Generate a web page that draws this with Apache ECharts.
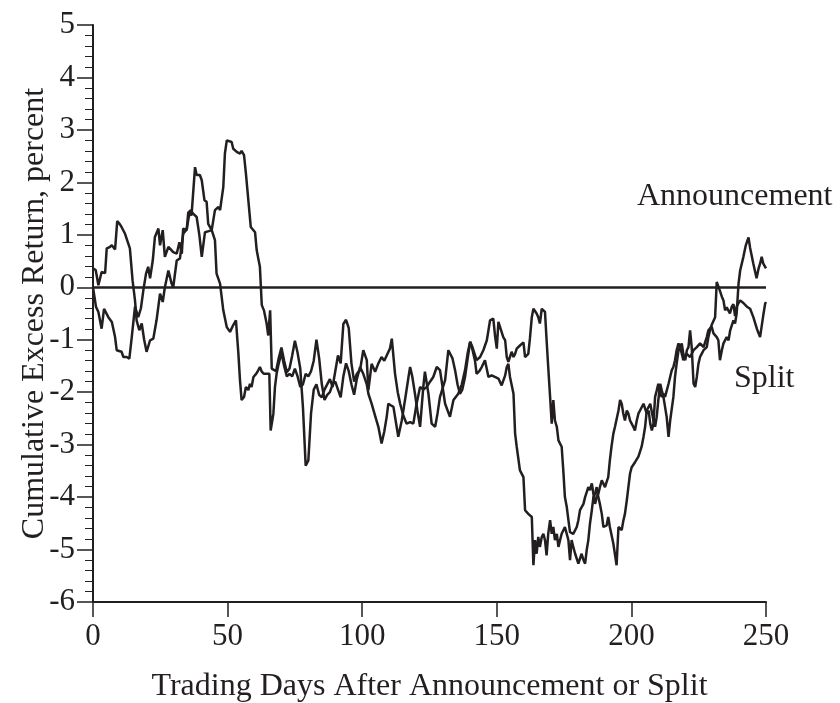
<!DOCTYPE html>
<html>
<head>
<meta charset="utf-8">
<script src="https://cdn.jsdelivr.net/npm/echarts@6/dist/echarts.min.js"></script>
<style>
html,body{margin:0;padding:0;background:#fff;}
#chart{width:840px;height:703px;}
</style>
</head>
<body>
<div id="chart"></div>
<script>
const xTicks = [0, 50, 100, 150, 200, 250];
const yTicks = [-6, -5, -4, -3, -2, -1, 0, 1, 2, 3, 4, 5];

const annDays = [0,1,2,3.2,4.5,5.1,6,7,7.6,8.2,9,10,10.6,11.9,12.5,13.7,14.7,15.6,16.2,17.2,18.1,19,19.9,21.2,22.4,23.6,24.9,25.9,26.7,28,29.2,29.8,31.1,32.3,33.5,34.8,36,37.3,38.5,39.5,40.4,41.6,43,44.1,44.7,45.3,46.6,47.2,48.4,49,49.7,50.3,51.5,52.1,53.4,54.6,55.2,56.1,56.8,57.7,58.6,59.3,60.2,60.8,61.4,62,62.7,63.5,64.5,65.1,65.8,66.4,67,68,69,70,71,72,73,74,75,76,77,78,79,80,81,82,83,84,85,86,87,88,89,90,91,92,93,94,95,96,97,98,99.2,100.4,101.7,102.3,103.5,104.8,106,107.2,108.2,109.1,110.3,111,112.2,113.2,114.1,115.3,116.5,117.8,119,120.2,121.5,122.7,124,125.2,126.4,127.7,128.9,130,130.8,132.6,133.9,135.7,137,138.2,139.2,140.1,141,141.9,142.5,143.5,144.4,145.6,146.9,148.1,149.3,150.6,151.8,153.1,153.7,154.3,154.9,156.2,156.8,157.4,158.6,159.9,160.5,161.7,163,163.6,164.2,164.8,165.4,166,166.7,167.3,167.9,168.5,169.1,169.8,170.4,171,171.6,172.3,172.9,173.5,174.1,175.3,176,176.6,177.2,177.8,178.4,179.1,180.3,180.9,181.5,182.2,182.8,183.4,184,184.6,185.3,185.9,186.5,187.1,187.7,188.3,189,189.6,190.8,191.4,192,193.3,194.5,195.2,195.8,196.4,197,197.6,198.3,198.9,199.5,200.1,200.7,201.4,202,202.6,203.2,203.8,204.5,205.1,205.7,207,208.2,208.8,209.4,210,210.7,211.3,211.9,213.1,213.8,214.4,215.6,216.2,216.8,217.5,218.1,219.3,220.6,221.8,223.1,224.3,225.5,226.8,228,228.6,229.8,230.5,231.7,232.3,232.9,233.6,234.2,235.4,236.1,236.7,237.9,238.5,239.1,239.8,240.4,241.6,242.5,243.5,244.1,245.3,246.5,247.2,247.8,248.4,249,250];
const annVals = [0.36,0.33,0.04,0.29,0.27,0.74,0.76,0.80,0.83,0.72,1.26,1.20,1.15,1.02,0.99,0.74,0.13,-0.25,-0.63,-0.82,-0.69,-1.00,-1.23,-1.01,-0.98,-0.63,-0.12,-0.28,0.00,0.32,0.07,0.00,0.51,0.55,1.02,1.10,1.47,1.40,1.34,1.00,0.58,1.05,1.07,1.09,1.28,1.47,1.53,1.47,1.91,2.55,2.80,2.83,2.77,2.64,2.58,2.55,2.60,2.52,2.17,1.66,1.15,1.16,1.05,0.71,0.55,0.39,-0.34,-0.44,-0.69,-0.92,-0.44,-1.55,-1.58,-1.60,-1.35,-1.15,-1.40,-1.62,-1.55,-1.30,-1.02,-1.25,-1.55,-2.30,-3.40,-3.30,-2.40,-1.95,-1.85,-2.05,-2.10,-1.95,-1.85,-1.75,-1.90,-1.60,-1.30,-1.45,-0.70,-0.62,-0.78,-1.45,-1.80,-1.65,-1.58,-1.20,-1.39,-1.96,-1.46,-1.61,-1.45,-1.33,-1.40,-1.30,-1.17,-0.98,-1.65,-2.00,-2.22,-2.45,-2.60,-2.57,-2.60,-2.22,-1.90,-1.95,-1.90,-1.80,-1.71,-1.52,-1.58,-1.95,-2.22,-2.47,-2.15,-2.03,-1.85,-1.58,-1.25,-1.04,-1.20,-1.40,-1.65,-1.60,-1.52,-1.39,-1.71,-1.68,-1.71,-1.74,-1.87,-1.68,-1.52,-1.46,-1.71,-2.03,-2.79,-3.04,-3.49,-3.62,-4.25,-4.32,-4.38,-5.30,-4.82,-5.08,-4.76,-4.95,-4.76,-4.70,-4.82,-5.11,-4.70,-4.44,-4.70,-4.57,-4.82,-4.70,-4.95,-4.82,-4.70,-4.57,-4.57,-4.82,-5.20,-4.82,-4.95,-5.08,-5.27,-5.30,-5.08,-5.20,-5.27,-5.01,-4.82,-4.51,-4.25,-4.00,-3.94,-3.81,-4.00,-4.13,-4.32,-4.57,-4.54,-4.38,-4.57,-4.89,-5.30,-4.57,-4.60,-4.63,-4.45,-4.32,-4.06,-3.80,-3.55,-3.43,-3.46,-3.33,-3.30,-3.23,-3.20,-3.04,-2.85,-2.66,-2.35,-2.22,-2.54,-2.66,-2.47,-2.15,-1.84,-1.97,-2.09,-2.47,-2.85,-2.54,-2.09,-1.71,-1.46,-1.20,-1.14,-1.39,-1.27,-1.33,-1.20,-1.14,-1.07,-1.14,-0.95,-0.82,-0.75,-0.88,-0.95,-1.01,-1.39,-1.20,-1.07,-0.95,-1.01,-0.82,-0.63,-0.69,-0.50,0.07,0.32,0.58,0.80,0.95,0.75,0.45,0.17,0.35,0.45,0.58,0.45,0.36];

const splitDays = [0,1.1,2,3.2,4.1,5.7,7,8.2,8.8,10.6,11.3,12.5,13.5,14.4,15.6,16.8,17.8,18.7,19.7,20.5,21.2,22.2,23,24.3,24.9,25.9,26.7,28,29.8,31.1,32.1,33,33.5,34.8,35.4,36.6,37.9,38.5,39.7,40.4,41.4,42.2,42.8,44.1,45.3,45.9,47.2,48.4,49.7,50.9,52.1,53.1,54,54.6,55.2,56.1,56.8,57.7,58.3,58.9,59.6,60.6,61.1,62,62.7,63.5,64.5,65.5,66,67,67.6,68.2,69,70,71,72,73,74,75,76,77,78,79,80,81,82,83,84,85,86,87,88,89,90,91,92,93,94,95,96,97,98,99.2,100.4,101.7,102.3,103.5,104.8,106,107.2,108.2,109.1,109.7,110.6,111.6,112.8,113.4,114.7,115.9,117.2,117.8,118.6,119.6,120.5,121.5,122.7,123.3,124.6,125.8,127.1,128,128.9,130.8,132,132.6,133.5,134.5,135.4,136.3,137.2,138.2,139.2,140.1,141,142.5,143.8,145,146.3,147.5,148.7,149.4,150,150.6,151.2,152.4,153.1,153.7,154.3,154.9,155.5,156.2,156.8,157.4,158.6,159.9,160.5,161.7,162.3,163,163.6,164.8,165.4,166,166.7,167.3,167.9,168.5,169.1,169.8,170.4,171,171.6,172.3,172.9,173.5,174.1,174.7,175.3,176,176.6,177.2,177.8,178.4,179.1,179.7,180.3,180.9,181.5,182.2,182.8,183.4,184,184.6,185.3,185.9,186.5,187.1,187.7,188.3,189,189.6,190.2,190.8,191.4,192,192.6,193.3,193.9,194.5,195.2,195.8,196.4,197,197.6,198.3,198.9,199.5,200.1,200.7,201.3,202,202.6,203.2,204.5,205.1,205.7,206.4,207,207.6,208.2,208.8,209.4,210,210.7,211.3,211.9,212.5,213.8,215,215.6,216.2,216.8,217.5,218.1,218.7,219.3,220,220.6,221.2,221.8,222.4,223.1,223.7,224.3,224.9,225.5,226.1,226.8,228,228.6,229.2,229.8,230.5,231.1,231.7,232.3,232.9,233.6,234.2,234.8,235.4,236.1,236.6,237.3,237.9,238.5,239.1,239.8,240.4,241.6,242.9,244.1,245.3,246.6,247.8,249,249.7,250];
const splitVals = [0.00,-0.37,-0.47,-0.79,-0.41,-0.57,-0.66,-0.95,-1.20,-1.23,-1.33,-1.33,-1.36,-0.95,-0.37,-0.57,-0.40,-0.06,0.26,0.39,0.17,0.51,0.96,1.12,0.80,1.09,0.58,0.77,0.67,0.64,0.86,0.64,1.12,1.09,1.44,1.37,2.29,2.14,2.14,2.04,1.66,1.63,1.21,1.09,0.90,0.26,0.07,-0.44,-0.76,-0.85,-0.72,-0.63,-1.26,-1.77,-2.15,-2.09,-1.90,-1.96,-1.84,-1.90,-1.71,-1.65,-1.61,-1.52,-1.61,-1.65,-1.65,-1.65,-2.73,-2.41,-1.90,-1.65,-1.45,-1.25,-1.50,-1.70,-1.65,-1.70,-1.55,-1.70,-1.90,-1.85,-1.65,-1.70,-1.60,-1.40,-1.00,-1.35,-1.85,-2.15,-2.05,-2.00,-1.85,-1.80,-1.95,-2.10,-1.70,-1.45,-1.60,-1.85,-2.05,-1.75,-1.52,-1.65,-1.85,-2.03,-2.22,-2.45,-2.66,-2.98,-2.75,-2.47,-2.22,-2.25,-2.28,-2.66,-2.85,-2.54,-2.15,-1.71,-1.52,-1.70,-2.03,-2.35,-2.66,-1.90,-1.61,-2.03,-2.60,-2.66,-2.40,-2.09,-1.77,-1.20,-1.17,-1.35,-1.58,-1.85,-2.03,-1.95,-1.71,-1.35,-1.04,-1.15,-1.39,-1.33,-1.20,-1.01,-0.63,-0.60,-0.95,-1.17,-0.66,-0.69,-0.95,-1.01,-1.33,-1.42,-1.39,-1.23,-1.33,-1.27,-1.17,-1.11,-1.05,-1.33,-1.27,-0.98,-0.57,-0.41,-0.50,-0.57,-0.69,-0.41,-0.38,-0.47,-1.01,-1.52,-2.09,-2.60,-2.15,-2.54,-2.66,-2.92,-2.98,-3.04,-3.49,-4.00,-4.19,-4.44,-4.67,-4.70,-4.70,-4.67,-4.57,-4.44,-4.25,-4.22,-4.13,-4.00,-3.97,-3.81,-3.87,-3.74,-3.94,-4.13,-4.00,-3.94,-3.81,-3.68,-3.68,-3.81,-3.71,-3.62,-3.30,-3.04,-2.79,-2.66,-2.66,-2.35,-2.15,-2.22,-2.41,-2.54,-2.35,-2.41,-2.54,-2.60,-2.66,-2.73,-2.54,-2.41,-2.35,-2.22,-2.25,-2.41,-2.35,-2.60,-2.73,-2.60,-2.09,-1.97,-1.84,-2.03,-2.09,-2.03,-2.09,-1.84,-1.58,-1.52,-1.39,-1.20,-1.07,-1.14,-1.07,-1.27,-1.39,-1.20,-1.14,-0.82,-1.14,-1.84,-1.90,-1.71,-1.46,-1.33,-1.27,-1.20,-1.14,-0.95,-0.82,-0.72,-0.75,-0.57,0.10,0.10,-0.07,-0.18,-0.25,-0.44,-0.38,-0.45,-0.50,-0.37,-0.32,-0.55,-0.37,-0.30,-0.25,-0.30,-0.37,-0.41,-0.57,-0.79,-0.95,-0.53,-0.31,-0.28];

const zip = (xs, ys) => xs.map((x, i) => [x, ys[i]]);
const FONT = "'Liberation Serif','Times New Roman',serif";
const INK = '#231f20';

const chart = echarts.init(document.getElementById('chart'), null, {renderer: 'canvas'});
chart.setOption({
  animation: false,
  backgroundColor: '#ffffff',
  grid: {left: 93, right: 74, top: 25, bottom: 101, containLabel: false, outerBoundsMode: 'none'},
  xAxis: {
    type: 'value', min: xTicks[0], max: xTicks[xTicks.length - 1], interval: 50,
    name: 'Trading Days After Announcement or Split',
    nameLocation: 'middle', nameGap: 69,
    nameTextStyle: {fontFamily: FONT, fontSize: 32, color: INK},
    axisLine: {onZero: false, lineStyle: {color: INK, width: 2}},
    axisTick: {show: true, inside: false, length: 15, lineStyle: {color: INK, width: 1.5}},
    axisLabel: {fontFamily: FONT, fontSize: 31, color: INK, margin: 19},
    splitLine: {show: false}
  },
  yAxis: {
    type: 'value', min: yTicks[0], max: yTicks[yTicks.length - 1], interval: 1,
    name: 'Cumulative Excess Return, percent',
    nameLocation: 'middle', nameGap: 42, nameMoveOverlap: false,
    nameTextStyle: {fontFamily: FONT, fontSize: 32, color: INK},
    axisLine: {show: true, onZero: false, lineStyle: {color: INK, width: 2}},
    axisTick: {show: true, inside: false, length: 16, lineStyle: {color: INK, width: 1.5}},
    minorTick: {show: true, splitNumber: 5, length: 8, lineStyle: {color: INK, width: 1}},
    axisLabel: {fontFamily: FONT, fontSize: 31, color: INK, margin: 18},
    splitLine: {show: false}
  },
  series: [
    {
      name: 'Announcement', type: 'line', data: zip(annDays, annVals),
      showSymbol: false, symbol: 'none',
      lineStyle: {color: INK, width: 2.5}, z: 3,
      markLine: {
        silent: true, symbol: ['none', 'none'], label: {show: false},
        lineStyle: {color: INK, width: 2.5, type: 'solid'},
        data: [{yAxis: 0}]
      }
    },
    {
      name: 'Split', type: 'line', data: zip(splitDays, splitVals),
      showSymbol: false, symbol: 'none',
      lineStyle: {color: INK, width: 2.5}, z: 3
    }
  ],
  graphic: [
    {type: 'text', left: 637, top: 181, style: {text: 'Announcement', font: '32px ' + FONT, fill: INK}},
    {type: 'text', left: 734, top: 363, style: {text: 'Split', font: '32px ' + FONT, fill: INK}}
  ]
});
</script>
</body>
</html>
